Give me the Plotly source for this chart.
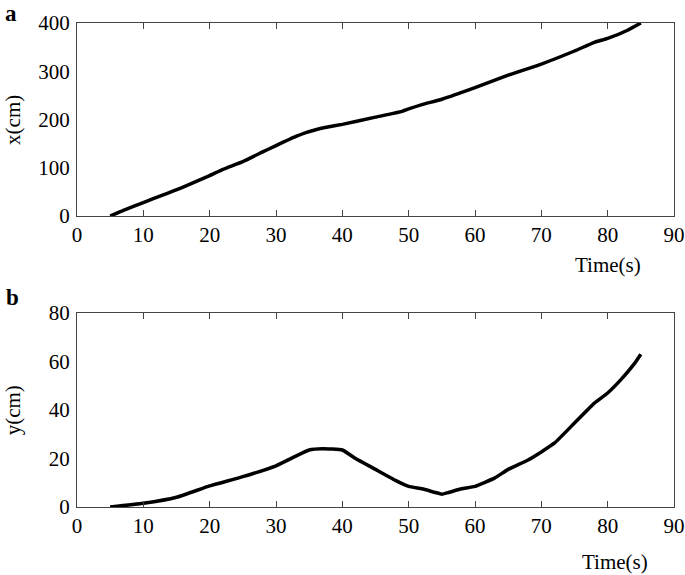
import plotly.graph_objects as go

# ── Data ─────────────────────────────────────────────────────────────────────
time_x = [5, 7, 10, 13, 16, 20, 22, 25, 28, 30, 33, 34.5, 36, 38, 40, 45, 49,
          50, 52, 55, 60, 65, 70, 75, 78, 80, 83, 85]
pos_x = [0, 12, 28, 44, 60, 84, 97, 113, 133, 146, 165, 173, 179, 185, 190, 205,
         217, 222, 231, 242, 266, 292, 315, 342, 360, 368, 385, 400]

time_y = [5, 10, 15, 20, 25, 30, 33, 35, 37, 40, 42, 45, 48, 50, 52, 54, 55, 56,
          58, 60, 63, 65, 68, 70, 72, 75, 78, 80, 82, 84, 85]
pos_y = [0, 1.5, 4, 8.7, 12.5, 17, 21, 23.5, 24, 23.5, 20, 15.5, 11, 8.5, 7.5,
         6, 5.3, 6, 7.5, 8.5, 12, 15.5, 19.4, 22.7, 26.4, 34.6, 42.8, 47, 52.5,
         59, 63]

x_ticks = [0, 10, 20, 30, 40, 50, 60, 70, 80, 90]
xpos_ticks = [0, 100, 200, 300, 400]
ypos_ticks = [0, 20, 40, 60, 80]

FONT = "Liberation Serif, Times New Roman, serif"
AXIS_COLOR = "#444444"
LINE = dict(color="black", width=3.5, shape="spline", smoothing=0.4)

fig = go.Figure()
fig.add_trace(go.Scatter(x=time_x, y=pos_x, mode="lines", line=LINE,
                         xaxis="x", yaxis="y", showlegend=False))
fig.add_trace(go.Scatter(x=time_y, y=pos_y, mode="lines", line=LINE,
                         xaxis="x2", yaxis="y2", showlegend=False))

tick_font = dict(family=FONT, size=21, color="black")

x_style = dict(
    range=[0, 90], tickvals=x_ticks, domain=[0, 1],
    showline=True, linecolor=AXIS_COLOR, linewidth=1, mirror="ticks",
    ticks="inside", ticklen=6, tickcolor=AXIS_COLOR, ticklabelstandoff=0,
    showgrid=False, zeroline=False, automargin=False, tickfont=tick_font,
)
y_style = dict(
    showline=True, linecolor=AXIS_COLOR, linewidth=1, mirror=True,
    ticks="", showgrid=False, zeroline=False, automargin=False,
    ticklabelstandoff=2, tickfont=tick_font,
)
# right-hand axes carry the inward ticks only (no ticks on the left edge)
y_right = dict(
    side="right", showline=False, ticks="inside", ticklen=6,
    tickcolor=AXIS_COLOR, showticklabels=False, showgrid=False,
    zeroline=False, automargin=False,
)

fig.update_layout(
    xaxis=dict(anchor="y", **x_style),
    xaxis2=dict(anchor="y2", **x_style),
    yaxis=dict(anchor="x", domain=[0.601, 1.0], range=[0, 400],
               tickvals=xpos_ticks, **y_style),
    yaxis2=dict(anchor="x2", domain=[0.0, 0.401], range=[0, 80],
                tickvals=ypos_ticks, **y_style),
    yaxis3=dict(anchor="x", overlaying="y", range=[0, 400],
                tickvals=xpos_ticks, **y_right),
    yaxis4=dict(anchor="x2", overlaying="y2", range=[0, 80],
                tickvals=ypos_ticks, **y_right),
)

annotations = [
    dict(text="<b>a</b>", x=-0.1223, y=1.0475, xanchor="left", yanchor="top",
         font=dict(size=23), borderpad=0),
    dict(text="<b>b</b>", x=-0.1223, y=0.432, xanchor="left", yanchor="middle",
         font=dict(size=23)),
    dict(text="Time(s)", x=0.889, y=0.50, xanchor="center", yanchor="middle"),
    dict(text="Time(s)", x=0.901, y=-0.1136, xanchor="center", yanchor="middle"),
    dict(text="x(cm)", x=-0.107, y=0.80, xanchor="center", yanchor="middle",
         textangle=-90),
    dict(text="y(cm)", x=-0.107, y=0.20, xanchor="center", yanchor="middle",
         textangle=-90),
]
for a in annotations:
    a.setdefault("font", dict(size=21))
    a["font"].update(family=FONT, color="black")
    fig.add_annotation(xref="paper", yref="paper", showarrow=False, **a)

fig.update_layout(
    width=685, height=575,
    margin=dict(l=77, r=11, t=23, b=68),
    paper_bgcolor="white", plot_bgcolor="white",
    font=dict(family=FONT, color="black"),
)

# drop the default page margin so the figure fills the window exactly
fig.write_html("out.html", config={"displayModeBar": False},
               post_script="document.body.style.margin = '0';")
